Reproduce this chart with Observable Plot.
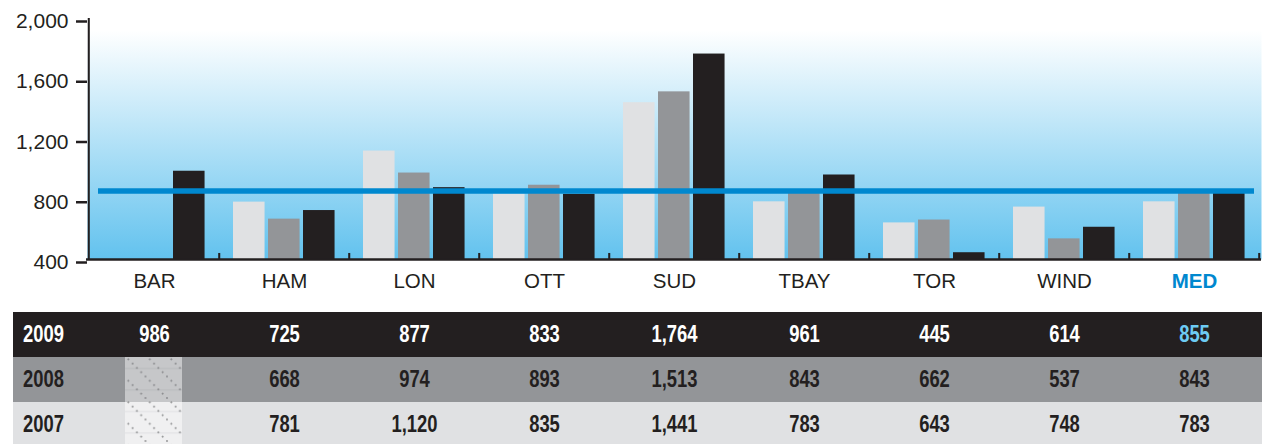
<!DOCTYPE html>
<html><head><meta charset="utf-8">
<script src="https://cdn.jsdelivr.net/npm/d3@7"></script>
<script src="https://cdn.jsdelivr.net/npm/@observablehq/plot@0.6"></script>
<style>
html,body{margin:0;padding:0;background:#fff;}
#chart svg,#table svg{display:block;}
</style></head><body>
<div id="chart"></div><div id="table"></div>
<script>
// ---- data ----
const categories = ["BAR","HAM","LON","OTT","SUD","TBAY","TOR","WIND","MED"];
const years = ["2009","2008","2007"];
const v2009 = [986, 725, 877, 833, 1764, 961, 445, 614, 855];
const v2008 = [null, 668, 974, 893, 1513, 843, 662, 537, 843];
const v2007 = [null, 781, 1120, 835, 1441, 783, 643, 748, 783];
const medianValue = 855;
const yTicks = [400, 800, 1200, 1600, 2000];

// ---- style ----
const dark = "#231f20", mid = "#939598", light = "#e0e1e3", blue = "#0088cf", lightBlue = "#6dcbf3";
const W = 1262, left = 87, right = 1;
const bw = (W - left - right) / categories.length;
const seriesVals = {"2009": v2009, "2008": v2008, "2007": v2007};
const seriesColor = {"2009": dark, "2008": mid, "2007": light};
const barOrder = ["2007","2008","2009"];
const sans = "'Liberation Sans', Arial, sans-serif";
const fmt = d3.format(",");

const rowsOf = y => categories.map((c, i) => ({cat: c, year: y, value: seriesVals[y][i]}));

const barMarks = barOrder.map((y, k) => Plot.barY(rowsOf(y).filter(d => d.value != null), {
  x: "cat", y1: 400, y2: "value", fill: seriesColor[y],
  insetLeft: 14 + 35 * k, insetRight: bw - 46 - 35 * k
}));

const chart = Plot.plot({
  width: W, height: 311, marginLeft: left, marginRight: right, marginTop: 18, marginBottom: 52,
  style: {fontFamily: sans, background: "transparent", overflow: "visible", color: dark},
  x: {type: "band", domain: categories, padding: 0, axis: null},
  y: {domain: [400, 2000], axis: null},
  marks: [
    Plot.frame({fill: "url(#bgGrad)", stroke: "none"}),
    ...barMarks,
    Plot.ruleY([medianValue], {stroke: blue, strokeWidth: 5.5, insetLeft: 11, insetRight: 7}),
    Plot.barY(categories, {x: d => d, y1: 400, y2: 440, fill: dark, insetLeft: bw - 1.25, insetRight: -1.25}),
    Plot.barY([categories[0]], {x: d => d, y1: 400, y2: 2000, fill: dark, insetLeft: -1.25, insetRight: bw - 1.25}),
    Plot.ruleY([400], {stroke: dark, strokeWidth: 2.5, insetLeft: -1}),
    Plot.axisY({ticks: yTicks, tickFormat: d => fmt(d), label: null, tickSize: 11, tickPadding: 8,
      stroke: dark, strokeWidth: 2.5, fill: dark, fontSize: 21, dy: 3, style: "letter-spacing:-1.2px"}),
    Plot.text(categories.filter(c => c !== "MED"), {x: d => d, text: d => d, frameAnchor: "bottom",
      lineAnchor: "middle", dy: 22, fill: dark, fontSize: 20.5, fontFamily: sans}),
    Plot.text(["MED"], {x: d => d, text: d => d, frameAnchor: "bottom", lineAnchor: "middle", dy: 22,
      fill: blue, fontSize: 20.5, fontWeight: "bold", fontFamily: sans})
  ]
});
d3.select(chart).insert("defs", ":first-child").html(`
  <linearGradient id="bgGrad" x1="0" y1="0" x2="0" y2="1">
    <stop offset="0" stop-color="#ffffff"/>
    <stop offset="0.05" stop-color="#ffffff"/>
    <stop offset="1" stop-color="#62c2ee"/>
  </linearGradient>`);
document.getElementById("chart").appendChild(chart);

// ---- table ----
const tableRows = years.flatMap(y => rowsOf(y));
const rowBg = {"2009": dark, "2008": mid, "2007": light};
const rowText = {"2009": "#ffffff", "2008": dark, "2007": dark};
const hatchFill = {"2008": "url(#hatch08)", "2007": "url(#hatch07)"};

const table = Plot.plot({
  width: W, height: 133, marginLeft: 13, marginRight: 0, marginTop: 0, marginBottom: 0,
  style: {fontFamily: sans, background: "transparent"},
  x: {type: "band", domain: categories, range: [left, W - right + 0.4], padding: 0, axis: null},
  y: {type: "band", domain: years, range: [0, 137], padding: 0, axis: null},
  color: {type: "identity"},
  marks: [
    Plot.cell(years, {y: d => d, fill: d => rowBg[d]}),
    Plot.cell(tableRows.filter(d => d.value == null), {x: "cat", y: "year", fill: d => hatchFill[d.year],
      insetLeft: 36, insetRight: 37}),
    Plot.text(years, {y: d => d, text: d => d, frameAnchor: "left", dx: 9.5, textAnchor: "start",
      fill: d => rowText[d], fontWeight: "bold", fontSize: 23, fontFamily: sans}),
    Plot.text(tableRows.filter(d => d.value != null), {x: "cat", y: "year", text: d => fmt(d.value),
      fill: d => (d.year === "2009" && d.cat === "MED") ? lightBlue : rowText[d.year],
      fontWeight: "bold", fontSize: 23, fontFamily: sans})
  ]
});
const dots = (c) => [0, 1, 2, 3, 4].map(i => {
  const p = 1 + i * 4.3;
  return `<path d="M${p - 1},${p}h2M${p},${p - 1}v2" stroke="${c}" stroke-width="0.9"/>`;
}).join("");
d3.select(table).insert("defs", ":first-child").html(`
  <pattern id="hatch08" patternUnits="userSpaceOnUse" x="123" y="0" width="21.5" height="21.5">
    <rect width="21.5" height="21.5" fill="#c6c7c9"/>
    <line x1="0" y1="14.5" x2="21.5" y2="14.5" stroke="#b6b7b9" stroke-width="0.8"/>
    ${dots("#86878a")}
  </pattern>
  <pattern id="hatch07" patternUnits="userSpaceOnUse" x="123" y="0" width="21.5" height="21.5">
    <rect width="21.5" height="21.5" fill="#f0f0f1"/>
    <line x1="0" y1="14.5" x2="21.5" y2="14.5" stroke="#dcdcdd" stroke-width="0.8"/>
    ${dots("#8e8f91")}
  </pattern>`);
// condense the bold table text horizontally (narrow face not installed)
d3.select(table).selectAll("text").each(function() {
  const t = this.getAttribute("transform") || "";
  this.setAttribute("transform", t + " scale(0.8,1)");
});
document.getElementById("table").appendChild(table);
</script>
</body></html>
